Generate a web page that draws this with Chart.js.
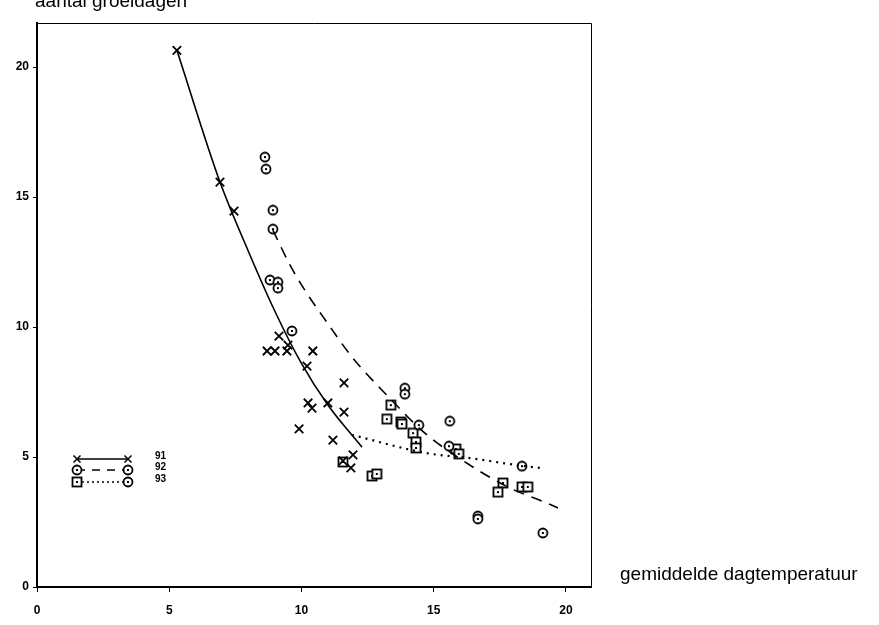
<!DOCTYPE html>
<html>
<head>
<meta charset="utf-8">
<script src="https://cdn.jsdelivr.net/npm/chart.js@4.4.1/dist/chart.umd.min.js"></script>
<style>
  html, body { margin: 0; padding: 0; background: #fff; }
  #wrap { width: 879px; height: 625px; }
</style>
</head>
<body>
<div id="wrap"><canvas id="chart" width="879" height="625"></canvas></div>
<script>
// measured points, [temperature, days]
const pts91 = [
  [5.29, 20.65], [6.92, 15.58], [7.45, 14.46], [9.15, 9.65], [8.70, 9.08],
  [9.00, 9.08], [9.45, 9.08], [10.43, 9.08], [9.49, 9.31], [10.21, 8.50],
  [11.61, 7.85], [10.25, 7.08], [10.40, 6.88], [11.00, 7.08], [11.61, 6.73],
  [9.91, 6.08], [11.19, 5.65], [11.95, 5.08], [11.57, 4.85], [11.87, 4.58]
];
const pts92 = [
  [8.62, 16.54], [8.66, 16.08], [8.92, 14.50], [8.92, 13.77], [8.81, 11.81],
  [9.11, 11.73], [9.11, 11.50], [9.64, 9.85], [13.91, 7.65], [13.91, 7.42],
  [15.61, 6.38], [14.44, 6.23], [15.58, 5.42], [18.34, 4.65], [16.67, 2.73],
  [16.67, 2.62], [19.13, 2.08]
];
const pts93 = [
  [13.38, 7.00], [13.23, 6.46], [13.76, 6.35], [13.80, 6.27], [14.22, 5.92],
  [14.33, 5.58], [14.33, 5.35], [15.84, 5.31], [15.95, 5.12], [11.57, 4.81],
  [12.67, 4.27], [12.85, 4.35], [17.62, 4.00], [17.43, 3.65], [18.34, 3.85],
  [18.56, 3.85]
];

// fitted curves
const fit91 = [
  [5.29, 20.65], [6.92, 15.58], [8.0, 12.9], [9.0, 10.6], [10.0, 8.6],
  [11.0, 7.0], [12.29, 5.38]
];
const fit92 = [
  [8.92, 13.73], [9.57, 12.38], [10.13, 11.42], [10.96, 10.19], [11.91, 8.85],
  [13.23, 7.38], [14.67, 5.92], [16.37, 4.69], [17.88, 3.81], [19.28, 3.23],
  [19.70, 3.04]
];
const fit93 = [
  [11.91, 5.85], [14.74, 5.15], [16.37, 4.96], [17.88, 4.73], [19.02, 4.58]
];

const xTicks = [0, 5, 10, 15, 20];
const yTicks = [0, 5, 10, 15, 20];
const seriesLabels = ['91', '92', '93'];
const yTitle = 'aantal groeidagen';
const xTitle = 'gemiddelde dagtemperatuur';

function toXY(arr) {
  return arr.map(p => ({ x: p[0], y: p[1] }));
}

// little marker pictures: ring/square with a dot in the middle
function makeMarker(kind) {
  const c = document.createElement('canvas');
  c.width = 12; c.height = 12;
  const g = c.getContext('2d');
  g.strokeStyle = '#000';
  g.fillStyle = '#fff';
  g.lineWidth = 1.8;
  if (kind === 'circle') {
    g.beginPath();
    g.arc(6, 6, 4.5, 0, Math.PI * 2);
    g.fill();
    g.stroke();
  } else {
    g.fillRect(1.5, 1.5, 9, 9);
    g.strokeRect(1.5, 1.5, 9, 9);
  }
  g.fillStyle = '#000';
  g.fillRect(5, 5, 2, 2);
  return c;
}
const circleMark = makeMarker('circle');
const squareMark = makeMarker('square');

const frameAndText = {
  id: 'frameAndText',
  afterDraw(chart) {
    const ctx = chart.ctx;
    const a = chart.chartArea;
    ctx.save();
    // thin top and right frame
    ctx.strokeStyle = '#000';
    ctx.lineWidth = 1;
    ctx.beginPath();
    ctx.moveTo(a.left, a.top + 0.5);
    ctx.lineTo(a.right + 0.5, a.top + 0.5);
    ctx.lineTo(a.right + 0.5, a.bottom);
    ctx.stroke();

    // titles
    ctx.fillStyle = '#000';
    ctx.font = '19px "Liberation Sans", Arial, sans-serif';
    ctx.textBaseline = 'alphabetic';
    ctx.textAlign = 'left';
    ctx.fillText(yTitle, 35, 7);
    ctx.fillText(xTitle, 620, 580);

    // legend
    const rows = [459, 470, 482];
    const x0 = 77, x1 = 128;
    rows.forEach((y, i) => {
      ctx.lineWidth = 1.5;
      if (i === 1) ctx.setLineDash([8, 7]);
      else if (i === 2) ctx.setLineDash([2, 3]);
      else ctx.setLineDash([]);
      ctx.beginPath();
      ctx.moveTo(x0, y);
      ctx.lineTo(x1, y);
      ctx.stroke();
      ctx.setLineDash([]);
      if (i === 0) {
        [x0, x1].forEach(x => {
          ctx.beginPath();
          ctx.moveTo(x - 3.5, y - 3.5); ctx.lineTo(x + 3.5, y + 3.5);
          ctx.moveTo(x - 3.5, y + 3.5); ctx.lineTo(x + 3.5, y - 3.5);
          ctx.stroke();
        });
      } else {
        ctx.drawImage(i === 1 ? circleMark : squareMark, x0 - 6, y - 6);
        ctx.drawImage(circleMark, x1 - 6, y - 6);
      }
      ctx.font = 'bold 10px "Liberation Sans", Arial, sans-serif';
      ctx.textBaseline = 'middle';
      ctx.fillText(seriesLabels[i], 155, y - 3);
    });
    ctx.restore();
  }
};

const lineStyle = {
  type: 'line',
  showLine: true,
  pointRadius: 0,
  borderColor: '#000',
  borderWidth: 1.6,
  fill: false,
  cubicInterpolationMode: 'monotone'
};

new Chart(document.getElementById('chart'), {
  type: 'scatter',
  data: {
    datasets: [
      Object.assign({}, lineStyle, { label: 'fit91', data: toXY(fit91) }),
      Object.assign({}, lineStyle, { label: 'fit92', data: toXY(fit92), borderDash: [11, 8] }),
      Object.assign({}, lineStyle, { label: 'fit93', data: toXY(fit93), borderDash: [2, 5], borderWidth: 2.2 }),
      {
        label: seriesLabels[0], data: toXY(pts91),
        pointStyle: 'crossRot', pointRadius: 6, borderColor: '#000', borderWidth: 1.8
      },
      {
        label: seriesLabels[1], data: toXY(pts92),
        pointStyle: circleMark, pointRadius: 6
      },
      {
        label: seriesLabels[2], data: toXY(pts93),
        pointStyle: squareMark, pointRadius: 6
      }
    ]
  },
  options: {
    responsive: false,
    animation: false,
    layout: { padding: { top: 23, right: 288, left: 0, bottom: 0 } },
    plugins: {
      legend: { display: false },
      tooltip: { enabled: false }
    },
    scales: {
      x: {
        type: 'linear',
        min: 0,
        max: 20.95,
        afterBuildTicks: s => { s.ticks = xTicks.map(v => ({ value: v })); },
        afterFit: s => { s.height = 38; },
        grid: { drawOnChartArea: false, drawTicks: true, tickLength: 5, color: '#000' },
        border: { display: true, color: '#000', width: 2 },
        ticks: {
          color: '#000', padding: 11, maxRotation: 0,
          font: { family: '"Liberation Sans", Arial, sans-serif', size: 12, weight: 'bold' }
        }
      },
      y: {
        type: 'linear',
        min: 0,
        max: 21.7,
        afterBuildTicks: s => { s.ticks = yTicks.map(v => ({ value: v })); },
        afterFit: s => { s.width = 37; },
        grid: { drawOnChartArea: false, drawTicks: true, tickLength: 4, color: '#000' },
        border: { display: true, color: '#000', width: 2 },
        ticks: {
          color: '#000', padding: 4,
          font: { family: '"Liberation Sans", Arial, sans-serif', size: 12, weight: 'bold' }
        }
      }
    }
  },
  plugins: [frameAndText]
});
</script>
</body>
</html>
